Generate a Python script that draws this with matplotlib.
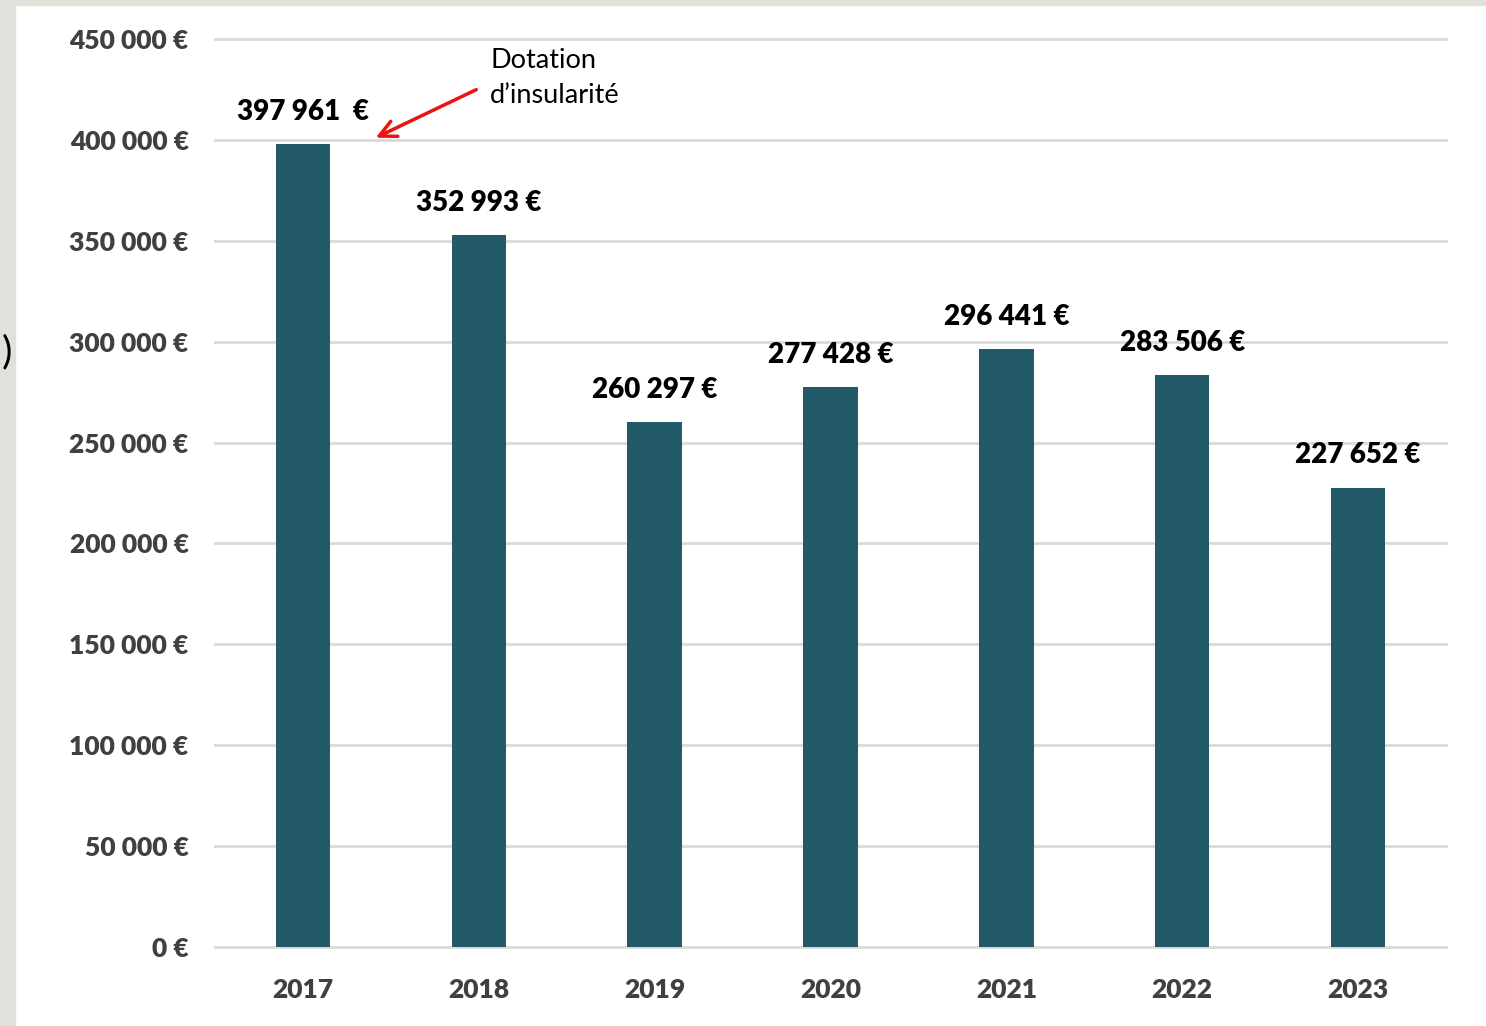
import numpy as np
import matplotlib.pyplot as plt
from matplotlib.patches import Rectangle

years = ['2017', '2018', '2019', '2020', '2021', '2022', '2023']
values = [397961, 352993, 260297, 277428, 296441, 283506, 227652]
labels = ['397 961  €', '352 993 €', '260 297 €', '277 428 €', '296 441 €', '283 506 €', '227 652 €']
yticks = np.arange(0, 450001, 50000)
ytick_labels = ['0 €'] + ['{:,} €'.format(v).replace(',', ' ') for v in yticks[1:]]

plt.rcParams['font.family'] = ['Lato', 'DejaVu Sans']

fig = plt.figure(figsize=(14.86, 10.26), dpi=100)
# grey frame of the slide
fig.patches.append(Rectangle((0, 0), 15 / 1486, 1, transform=fig.transFigure, color='#e1e1dc', zorder=0))
fig.patches.append(Rectangle((0, 1 - 5 / 1026), 1, 5 / 1026, transform=fig.transFigure, color='#e1e1dc', zorder=0))
fig.text(7 / 1486, 1 - 352 / 1026, ')', fontsize=28, ha='center', va='center', color='black')

ax = fig.add_axes([215 / 1486, 79 / 1026, 1231 / 1486, 908 / 1026])
x = np.arange(len(years))
ax.bar(x, values, width=0.31, color='#225a69', zorder=3)
for xi, v, lab in zip(x, values, labels):
    ax.text(xi, v + 9500, lab, ha='center', va='bottom', fontsize=20, fontweight='heavy', color='black')

ax.set_xlim(-0.5, len(years) - 0.5)
ax.set_ylim(0, 450000)
ax.set_yticks(yticks)
ax.set_yticklabels(ytick_labels)
ax.set_xticks(x)
ax.set_xticklabels(years)
ax.grid(axis='y', color='#d9d9d9', linewidth=2, zorder=0)
for g in ax.yaxis.get_gridlines():
    g.set_clip_on(False)
for s in ax.spines.values():
    s.set_visible(False)
ax.tick_params(axis='both', length=0, labelsize=19, labelcolor='#404040')
ax.tick_params(axis='y', pad=19)
ax.tick_params(axis='x', pad=22)
for t in ax.get_xticklabels() + ax.get_yticklabels():
    t.set_fontweight('heavy')

ax.annotate('', xy=(0.4, 400500), xytext=(1.0, 425500),
            arrowprops=dict(arrowstyle='->', color='#ee1111', lw=2.5, mutation_scale=30), zorder=5)
ax.text(1.065, 445500, 'Dotation\nd\u2019insularité', ha='left', va='top', fontsize=19.5,
        color='black', linespacing=1.5)

fig.savefig('out.png', dpi=100)
